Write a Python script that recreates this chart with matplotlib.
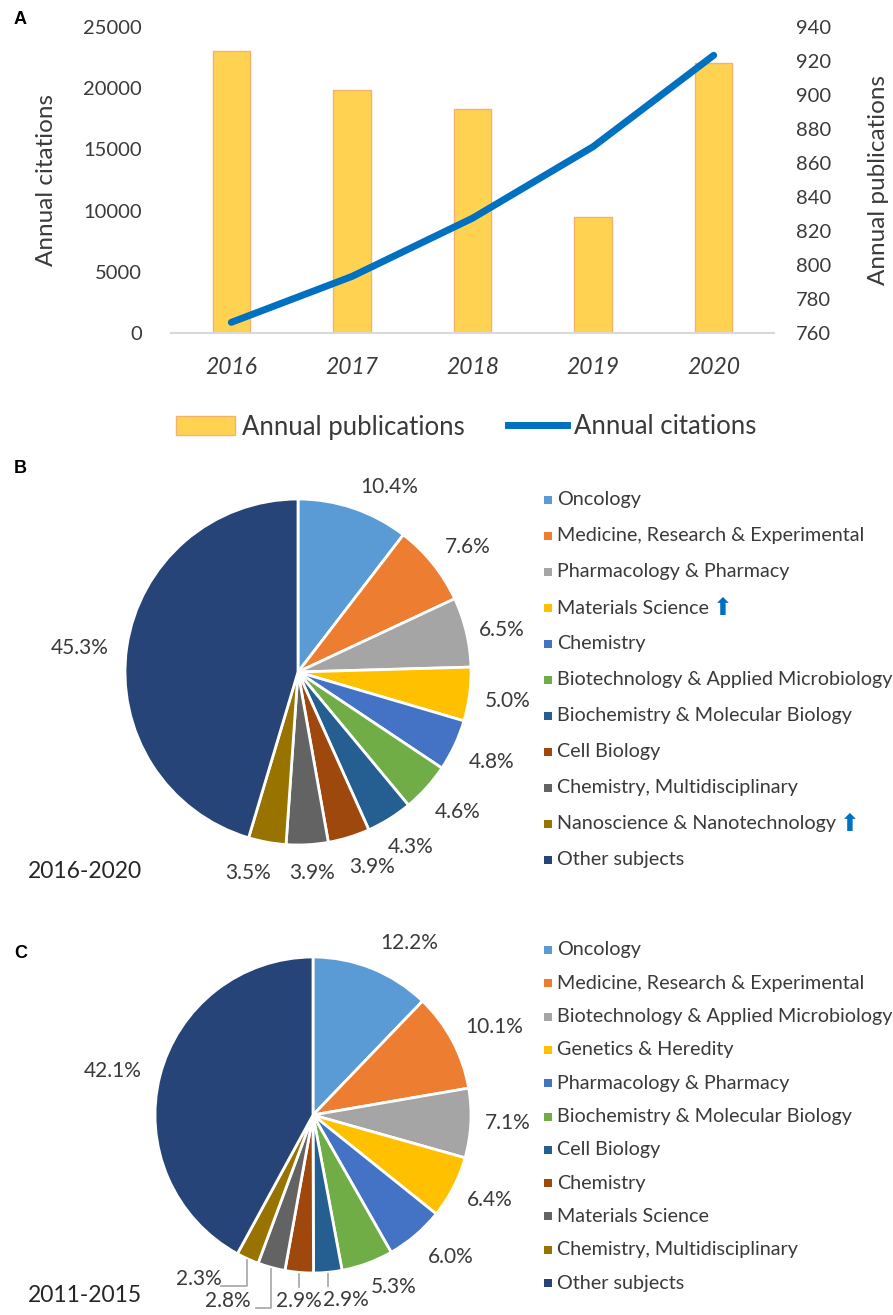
import numpy as np
import matplotlib.pyplot as plt
from matplotlib.patches import Patch, Rectangle
from matplotlib.lines import Line2D

W, H = 893, 1315
plt.rcParams['font.family'] = ['Lato', 'DejaVu Sans']

# Panel A data
years = ['2016', '2017', '2018', '2019', '2020']
publications = [926, 903, 892, 828, 919]
citations = [870, 4620, 9380, 15220, 22690]

# Panel B data (2016-2020)
subjects_b = ['Oncology', 'Medicine, Research & Experimental', 'Pharmacology & Pharmacy',
              'Materials Science', 'Chemistry', 'Biotechnology & Applied Microbiology',
              'Biochemistry & Molecular Biology', 'Cell Biology', 'Chemistry, Multidisciplinary',
              'Nanoscience & Nanotechnology', 'Other subjects']
share_b = [10.4, 7.6, 6.5, 5.0, 4.8, 4.6, 4.3, 3.9, 3.9, 3.5, 45.3]
rising_b = ['Materials Science', 'Nanoscience & Nanotechnology']

# Panel C data (2011-2015)
subjects_c = ['Oncology', 'Medicine, Research & Experimental', 'Biotechnology & Applied Microbiology',
              'Genetics & Heredity', 'Pharmacology & Pharmacy', 'Biochemistry & Molecular Biology',
              'Cell Biology', 'Chemistry', 'Materials Science', 'Chemistry, Multidisciplinary',
              'Other subjects']
share_c = [12.2, 10.1, 7.1, 6.4, 6.0, 5.3, 2.9, 2.9, 2.8, 2.3, 42.1]

# Excel office palette
palette = ['#5B9BD5', '#ED7D31', '#A5A5A5', '#FFC000', '#4472C4', '#70AD47',
           '#255E91', '#9E480E', '#636363', '#997300', '#264478']

# label positions (in pie radius units)
lab_b = [(0.53, 1.07), (0.98, 0.72), (1.18, 0.24), (1.21, -0.17), (1.12, -0.52),
         (0.92, -0.81), (0.65, -1.01), (0.43, -1.13), (0.08, -1.16), (-0.29, -1.16),
         (-1.26, 0.14)]
lab_c = [(0.61, 1.09), (1.15, 0.56), (1.23, -0.05), (1.12, -0.54), (0.87, -0.90),
         (0.51, -1.09), (0.21, -1.17), (-0.09, -1.18), (-0.54, -1.18), (-0.72, -1.04),
         (-1.27, 0.28)]
# leader lines: slice index -> (y level, x end)
leaders_c = {6: (-1.08, None), 7: (-1.09, None), 8: (-1.22, -0.36), 9: (-1.08, -0.58)}

TXT = '#3A3A3A'


def fx(px):
    return px / W


def fy(py):
    return 1 - py / H


fig = plt.figure(figsize=(W / 100, H / 100), dpi=100)

# ---------------- Panel A ----------------
axA = fig.add_axes([fx(171), fy(333), 603 / W, 306 / H])
axP = axA.twinx()
x = np.arange(len(years))
axP.bar(x, publications, width=0.31, color='#FFD351', edgecolor='#F5B26B', linewidth=1)
axP.set_ylim(760, 940)
axP.set_yticks(np.arange(760, 941, 20))
axA.plot(x, citations, color='#0070C0', lw=5, solid_capstyle='round')
axA.set_ylim(0, 25000)
axA.set_yticks(np.arange(0, 25001, 5000))
axA.set_xlim(-0.5, 4.5)
axA.set_xticks(x)
axA.set_xticklabels(years)
axA.set_zorder(axP.get_zorder() + 1)
axA.patch.set_visible(False)
for a in (axA, axP):
    for s in a.spines.values():
        s.set_visible(False)
axA.spines['bottom'].set_visible(True)
axA.spines['bottom'].set_color('#D9D9D9')
axA.spines['bottom'].set_linewidth(1.5)
axA.tick_params(axis='y', length=0, pad=21, labelsize=14.5, labelcolor=TXT)
axA.tick_params(axis='x', length=0, pad=17, labelsize=16.5, labelcolor=TXT)
axP.tick_params(axis='y', length=0, pad=16, labelsize=14.5, labelcolor=TXT)
for lbl in axA.get_xticklabels():
    lbl.set_style('italic')
axA.set_ylabel('Annual citations', fontsize=17.5, color=TXT)
axA.yaxis.set_label_coords(-0.189, 0.5)
axP.set_ylabel('Annual publications', fontsize=17.5, color=TXT)
axP.yaxis.set_label_coords(1.156, 0.5)

handles = [Patch(facecolor='#FFD351', edgecolor='#F5B26B'),
           Line2D([], [], color='#0070C0', lw=5)]
fig.legend(handles, ['Annual publications', 'Annual citations'], loc='center',
           bbox_to_anchor=(fx(466), fy(427)), ncol=2, frameon=False, fontsize=18.5,
           handlelength=2.3, handleheight=0.75, handletextpad=0.25, columnspacing=1.7,
           labelcolor=TXT)


# ---------------- Pies ----------------
def draw_pie(cx, cy, r, shares, labpos, leaders=None):
    ax = fig.add_axes([fx(cx - r), fy(cy + r), 2 * r / W, 2 * r / H])
    wedges, _ = ax.pie(shares, colors=palette, startangle=90, counterclock=False,
                       wedgeprops=dict(edgecolor='white', linewidth=2))
    ax.set_xlim(-1, 1)
    ax.set_ylim(-1, 1)
    for v, (lx, ly) in zip(shares, labpos):
        ax.text(lx, ly, f'{v:.1f}%', ha='center', va='center', fontsize=15,
                color=TXT, clip_on=False)
    if leaders:
        for i, (yl, xe) in leaders.items():
            w = wedges[i]
            th = np.deg2rad((w.theta1 + w.theta2) / 2)
            x0, y0 = 1.01 * np.cos(th), 1.01 * np.sin(th)
            xs, ys = [x0, x0], [y0, yl]
            if xe is not None:
                xs.append(xe)
                ys.append(yl)
            ax.plot(xs, ys, color='#A6A6A6', lw=1.2, clip_on=False)
    return ax


def draw_key(labels, y0, step, rising=()):
    renderer = fig.canvas.get_renderer()
    for i, (name, col) in enumerate(zip(labels, palette)):
        y = y0 + i * step
        fig.patches.append(Rectangle((fx(544), fy(y + 4)), 8 / W, 8 / H,
                                     facecolor=col, edgecolor='none',
                                     transform=fig.transFigure, figure=fig))
        t = fig.text(fx(557), fy(y), name, ha='left', va='center', fontsize=14.2, color=TXT)
        if name in rising:
            bb = t.get_window_extent(renderer)
            fig.text((bb.x1 + 4) / W, fy(y), '\u2B06', ha='left', va='center',
                     fontsize=17, color='#0070C0', family=['DejaVu Sans'])


draw_pie(298, 672, 173, share_b, lab_b)
draw_key(subjects_b, 500, 36, rising_b)
draw_pie(313, 1115, 158, share_c, lab_c, leaders_c)
draw_key(subjects_c, 950, 33.3)

fig.text(fx(85), fy(872), '2016-2020', ha='center', va='center', fontsize=16.5, color='#262626')
fig.text(fx(85), fy(1296), '2011-2015', ha='center', va='center', fontsize=16.5, color='#262626')

for letter, (px, py) in zip('ABC', [(20, 20), (20, 468), (21, 953)]):
    fig.text(fx(px), fy(py), letter, ha='center', va='center', fontsize=13,
             fontweight='bold', family=['Liberation Sans', 'DejaVu Sans'])

fig.savefig('out.png', dpi=100)
